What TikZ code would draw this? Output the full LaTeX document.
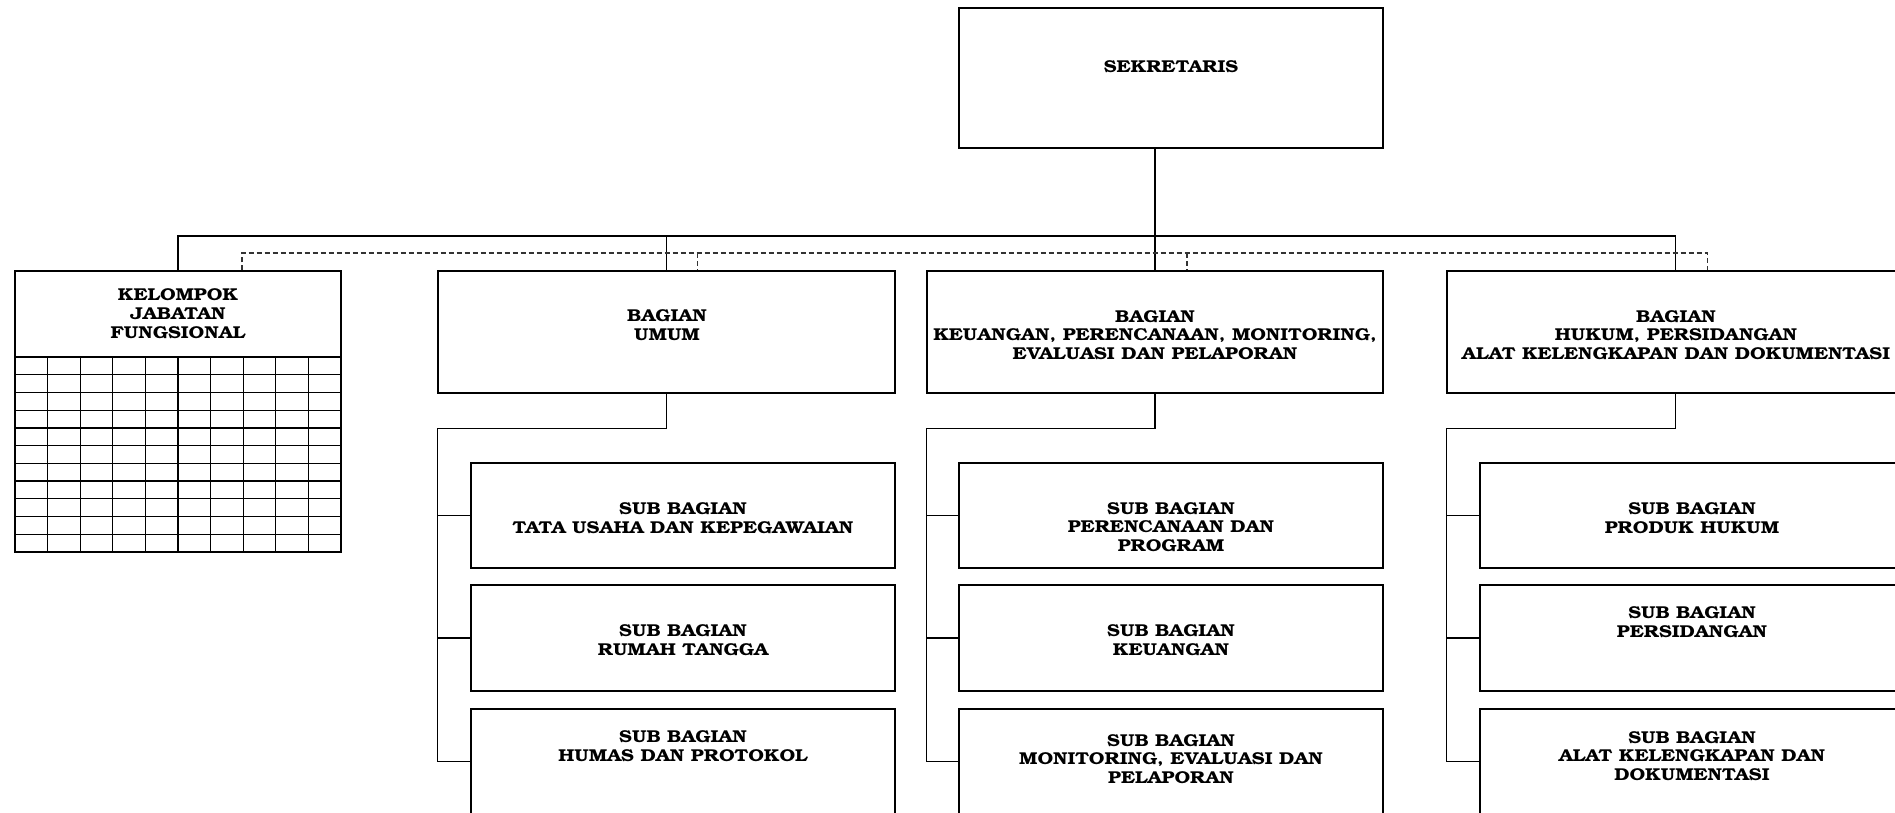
\documentclass[tikz,border=0pt]{standalone}
\usepackage[T1]{fontenc}
\usepackage{bookman}
\usepackage{graphicx}
\newcommand\tfont{\fontsize{19.5}{21.3}\selectfont\bfseries}
\newcommand\bt[1]{\scalebox{1}[0.88]{\tfont\begin{tabular}{@{}c@{}}#1\end{tabular}}}
\tikzset{
  box/.style={draw, line width=1.4pt, rectangle, inner sep=0pt},
  txt/.style={inner sep=0pt, align=center},
  conn/.style={line width=1.4pt},
  dconn/.style={line width=1.1pt, dash pattern=on 5pt off 3pt, black!80},
  gridl/.style={line width=1.2pt}
}
\begin{document}
\begin{tikzpicture}[x=1pt,y=-1pt]
\useasboundingbox[fill=white] (0,0) rectangle (1895,812);
% top
\node[box, minimum width=424pt, minimum height=140pt] (sek) at (1171,78) {};
\node[txt] (tsek) at (1171,69) {\bt{SEKRETARIS}};
% kelompok jabatan fungsional
\node[box, minimum width=326pt, minimum height=281pt] (kjf) at (178,411.5) {};
\node[txt] (tkjf) at (178,315.5) {\bt{KELOMPOK\\JABATAN\\FUNGSIONAL}};
\draw[gridl] (kjf.west |- 0,357) -- (kjf.east |- 0,357);
\foreach \i in {1,...,10} \draw[gridl] (15,{357+\i*17.727}) -- (341,{357+\i*17.727});
\foreach \j in {1,...,9} \draw[gridl] ({15+\j*32.6},357) -- ({15+\j*32.6},552);
% bagian
\node[box, minimum width=457pt, minimum height=122pt] (bag1) at (666.5,332) {};
\node[box, minimum width=456pt, minimum height=122pt] (bag2) at (1155,332) {};
\node[box, minimum width=457pt, minimum height=122pt] (bag3) at (1675.5,332) {};
\node[txt] (tb1) at (667,327) {\bt{BAGIAN\\UMUM}};
\node[txt] (tb2) at (1155,337) {\bt{BAGIAN\\KEUANGAN, PERENCANAAN, MONITORING,\\EVALUASI DAN PELAPORAN}};
\node[txt] (tb3) at (1676,337) {\bt{BAGIAN\\HUKUM, PERSIDANGAN\\ALAT KELENGKAPAN DAN DOKUMENTASI}};
% sub bagian
\foreach \c/\x in {1/683,2/1171,3/1692}{
  \node[box, minimum width=424pt, minimum height=105pt] (s\c1) at (\x,515.5) {};
  \node[box, minimum width=424pt, minimum height=106pt] (s\c2) at (\x,638) {};
  \node[box, minimum width=424pt, minimum height=105pt] (s\c3) at (\x,761.5) {};
}
\node[txt] (t11) at (683,520) {\bt{SUB BAGIAN\\TATA USAHA DAN KEPEGAWAIAN}};
\node[txt] (t12) at (683,642) {\bt{SUB BAGIAN\\RUMAH TANGGA}};
\node[txt] (t13) at (683,748) {\bt{SUB BAGIAN\\HUMAS DAN PROTOKOL}};
\node[txt] (t21) at (1171,529) {\bt{SUB BAGIAN\\PERENCANAAN DAN\\PROGRAM}};
\node[txt] (t22) at (1171,642) {\bt{SUB BAGIAN\\KEUANGAN}};
\node[txt] (t23) at (1171,761) {\bt{SUB BAGIAN\\MONITORING, EVALUASI DAN\\PELAPORAN}};
\node[txt] (t31) at (1692,520) {\bt{SUB BAGIAN\\PRODUK HUKUM}};
\node[txt] (t32) at (1692,624) {\bt{SUB BAGIAN\\PERSIDANGAN}};
\node[txt] (t33) at (1692,758) {\bt{SUB BAGIAN\\ALAT KELENGKAPAN DAN\\DOKUMENTASI}};
% connectors top
\draw[conn] (sek.south -| bag2.north) -- (bag2.north);
\draw[conn] (kjf.north) -- (kjf.north |- 0,236) -- (bag3.north |- 0,236) -- (bag3.north);
\draw[conn] (bag1.north |- 0,236) -- (bag1.north);
\draw[dconn] ([xshift=64pt]kjf.north) -- ([xshift=64pt]kjf.north |- 0,253) -- ([xshift=32pt]bag3.north |- 0,253) -- ([xshift=32pt]bag3.north);
\draw[dconn] ([xshift=31pt]bag1.north |- 0,253) -- ([xshift=31pt]bag1.north);
\draw[dconn] ([xshift=32pt]bag2.north |- 0,253) -- ([xshift=32pt]bag2.north);
% connectors sub
\foreach \c in {1,2,3}{
  \draw[conn] (bag\c.south) -- ++(0,35) -| (s\c3.west -| bag\c.west) -- (s\c3.west);
  \draw[conn] (s\c1.west -| bag\c.west) -- (s\c1.west);
  \draw[conn] (s\c2.west -| bag\c.west) -- (s\c2.west);
}
\end{tikzpicture}
\end{document}
